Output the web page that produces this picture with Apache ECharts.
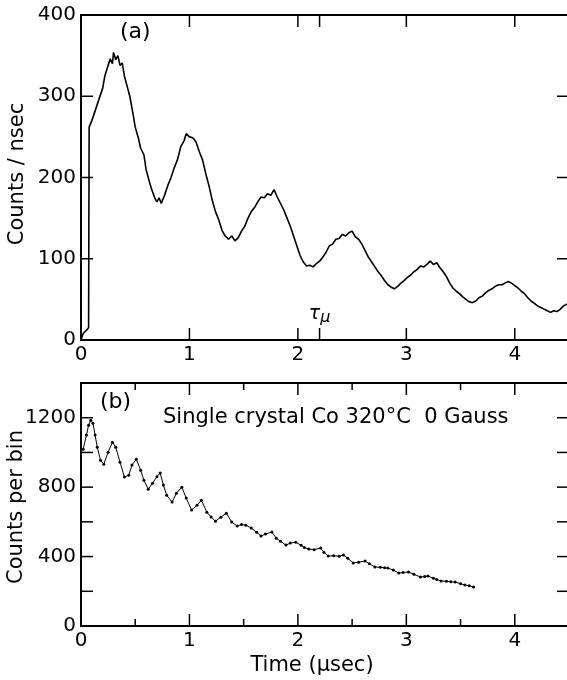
<!DOCTYPE html>
<html><head><meta charset="utf-8">
<script src="https://cdn.jsdelivr.net/npm/echarts@6/dist/echarts.min.js"></script>
<style>html,body{margin:0;padding:0;background:#fff}#c{width:567px;height:680px}</style>
</head><body><div id="c"></div>
<script>
// ---- Panel (a): counts / nsec vs time (usec)
const topTime = [0.00,0.02,0.05,0.07,0.075,0.10,0.15,0.18,0.20,0.22,0.25,0.27,0.29,0.30,0.32,0.34,0.36,0.38,0.40,0.43,0.45,0.48,0.50,0.53,0.55,0.58,0.60,0.63,0.65,0.68,0.70,0.72,0.74,0.77,0.80,0.83,0.86,0.89,0.92,0.95,0.97,1.00,1.03,1.06,1.09,1.12,1.15,1.18,1.21,1.24,1.27,1.30,1.33,1.36,1.39,1.42,1.45,1.48,1.51,1.54,1.57,1.60,1.63,1.66,1.69,1.72,1.75,1.78,1.81,1.84,1.87,1.90,1.93,1.96,1.99,2.02,2.05,2.08,2.11,2.14,2.17,2.20,2.23,2.26,2.29,2.32,2.35,2.38,2.41,2.44,2.47,2.50,2.53,2.56,2.59,2.62,2.65,2.68,2.71,2.74,2.77,2.80,2.83,2.86,2.89,2.92,2.95,2.98,3.01,3.04,3.07,3.10,3.13,3.16,3.19,3.22,3.25,3.28,3.31,3.34,3.37,3.40,3.43,3.46,3.49,3.52,3.55,3.58,3.61,3.64,3.67,3.70,3.73,3.76,3.79,3.82,3.85,3.88,3.91,3.94,3.97,4.00,4.03,4.06,4.09,4.12,4.15,4.18,4.21,4.24,4.27,4.30,4.33,4.36,4.39,4.42,4.45,4.48,4.50];
const topCounts = [0,8,12,15,262,270,290,302,310,325,338,346,340,354,345,350,338,341,325,310,300,278,262,248,236,228,210,195,186,175,170,175,168,178,190,200,212,222,238,245,254,250,249,244,232,222,205,190,172,158,148,135,128,124,128,122,126,134,140,150,158,163,170,176,175,180,178,185,176,168,160,150,140,128,116,104,96,91,92,90,94,97,102,108,116,118,124,125,130,128,132,134,127,124,118,110,102,96,90,84,79,73,68,65,63,66,70,73,77,80,84,87,91,90,93,97,93,95,89,84,78,70,64,60,57,53,50,47,46,48,52,54,58,61,63,66,68,68,70,72,70,67,64,60,57,52,48,45,42,40,38,36,34,36,35,38,42,44,46];

// ---- Panel (b): counts per bin vs time (usec)
const botTime = [0.02,0.05,0.07,0.09,0.11,0.13,0.15,0.18,0.21,0.25,0.29,0.32,0.36,0.40,0.44,0.47,0.51,0.55,0.58,0.62,0.66,0.70,0.73,0.76,0.79,0.84,0.88,0.93,0.97,1.02,1.07,1.11,1.16,1.20,1.24,1.29,1.34,1.39,1.44,1.48,1.52,1.57,1.62,1.66,1.70,1.76,1.80,1.84,1.89,1.93,1.98,2.03,2.06,2.10,2.15,2.21,2.24,2.28,2.33,2.38,2.42,2.46,2.51,2.56,2.62,2.66,2.71,2.76,2.80,2.83,2.88,2.93,2.97,3.02,3.07,3.13,3.17,3.20,3.25,3.28,3.32,3.37,3.41,3.45,3.50,3.54,3.58,3.62];
const botCounts = [1019,1100,1157,1186,1168,1100,1030,955,932,1001,1059,1030,944,858,869,927,961,898,840,788,823,860,881,812,754,714,765,800,737,668,696,725,656,628,604,627,650,599,576,585,581,564,540,518,530,541,506,488,466,478,483,465,452,443,440,449,425,403,405,402,409,390,363,368,374,358,340,338,336,334,322,305,308,311,298,282,285,288,275,268,259,258,255,253,244,236,232,224];

// ---- Axis ticks / labels
const xLabels = [0,1,2,3,4];
const xMajorTicks = [1,2,3,4];
const xMinorTicks = [0.5,1.5,2.5,3.5];
const tauMu = 2.2;
const yTopLabels = [0,100,200,300,400];
const yTopTicks = [100,200,300];
const yBotLabels = [0,400,800,1200];
const yBotTicks = [200,400,600,800,1000,1200];

const FONT = 'DejaVu Sans';
const K = '#000';
const labStyle = { color: K, fontFamily: FONT, fontSize: 20 };
const X_MAX = 4.5, YA_MAX = 400, YB_MAX = 1400;

function grid(rect) {
  return Object.assign({ outerBoundsMode: 'none', containLabel: false,
    show: true, borderColor: K, borderWidth: 2, backgroundColor: 'transparent' }, rect);
}
function labelAxis(gridIndex, pos, max, labels) {
  return {
    type: 'value', gridIndex: gridIndex, position: pos, min: 0, max: max,
    axisLine: { show: false, onZero: false }, axisTick: { show: false }, splitLine: { show: false },
    axisLabel: Object.assign({ show: true, margin: 5, customValues: labels,
      formatter: function (v) { return String(v); } }, labStyle)
  };
}
// tick marks drawn through the axes' scales: item = [value, side(0 = bottom/left, 1 = top/right), major(1/0)]
function tickSeries(xi, yi, dir, yMax, items) {
  return {
    type: 'custom', xAxisIndex: xi, yAxisIndex: yi, silent: true, clip: false, z: 5,
    encode: { x: -1, y: -1 },
    data: items,
    renderItem: function (params, api) {
      const v = api.value(0), side = api.value(1), major = api.value(2);
      const len = major ? 12 : 7;
      let p, shape;
      if (dir === 'x') {
        p = api.coord([v, side ? yMax : 0]);
        shape = { x1: p[0], y1: p[1], x2: p[0], y2: p[1] + (side ? len : -len) };
      } else {
        p = api.coord([side ? X_MAX : 0, v]);
        shape = { x1: p[0], y1: p[1], x2: p[0] + (side ? -len : len), y2: p[1] };
      }
      return { type: 'line', shape: shape, style: { stroke: K, lineWidth: 1.5 } };
    }
  };
}
function both(vals, major) {
  return vals.map(v => [v, 0, major]).concat(vals.map(v => [v, 1, major]));
}

const chart = echarts.init(document.getElementById('c'), null, { renderer: 'canvas' });

chart.setOption({
  animation: false,
  backgroundColor: '#fff',
  grid: [
    grid({ left: 81, right: -2, top: 15, height: 325 }),
    grid({ left: 81, right: -2, top: 383, height: 243 })
  ],
  xAxis: [
    labelAxis(0, 'bottom', X_MAX, xLabels),
    {
      type: 'value', gridIndex: 0, position: 'bottom', min: 0, max: X_MAX,
      axisLine: { show: false, onZero: false }, axisTick: { show: false }, splitLine: { show: false },
      axisLabel: {
        show: true, inside: true, margin: 14, customValues: [tauMu],
        formatter: function () { return '{t|τ}{m|μ}'; },
        rich: {
          t: { fontFamily: FONT, fontSize: 19, fontStyle: 'italic', color: K },
          m: { fontFamily: FONT, fontSize: 16, fontStyle: 'italic', color: K, padding: [8, 0, 0, 0] }
        }
      }
    },
    labelAxis(1, 'bottom', X_MAX, xLabels)
  ],
  yAxis: [
    labelAxis(0, 'left', YA_MAX, yTopLabels),
    labelAxis(1, 'left', YB_MAX, yBotLabels)
  ],
  graphic: [
    { type: 'text', left: 120, top: 21, style: { text: '(a)', fontFamily: FONT, fontSize: 22, fill: K } },
    { type: 'text', left: 100, top: 391, style: { text: '(b)', fontFamily: FONT, fontSize: 22, fill: K } },
    { type: 'text', left: 163, top: 407, style: { text: 'Single crystal Co 320°C  0 Gauss', fontFamily: FONT, fontSize: 21, fill: K } },
    { type: 'text', x: 312, y: 666, style: { text: 'Time (μsec)', fontFamily: FONT, fontSize: 21, fill: K, align: 'center', verticalAlign: 'middle' } },
    { type: 'text', x: 18, y: 174, rotation: Math.PI / 2, style: { text: 'Counts / nsec', fontFamily: FONT, fontSize: 21, fill: K, align: 'center', verticalAlign: 'middle' } },
    { type: 'text', x: 17, y: 507, rotation: Math.PI / 2, style: { text: 'Counts per bin', fontFamily: FONT, fontSize: 21, fill: K, align: 'center', verticalAlign: 'middle' } }
  ],
  series: [
    {
      type: 'line', xAxisIndex: 0, yAxisIndex: 0,
      data: topTime.map((t, i) => [t, topCounts[i]]),
      showSymbol: false, symbol: 'none',
      lineStyle: { color: K, width: 1.6 }
    },
    {
      type: 'line', xAxisIndex: 2, yAxisIndex: 1,
      data: botTime.map((t, i) => [t, botCounts[i]]),
      symbol: 'circle', symbolSize: 3,
      itemStyle: { color: K },
      lineStyle: { color: K, width: 1 }
    },
    tickSeries(0, 0, 'x', YA_MAX, both(xMajorTicks.concat([tauMu]), 1)),
    tickSeries(0, 0, 'y', YA_MAX, both(yTopTicks, 1)),
    tickSeries(2, 1, 'x', YB_MAX, both(xMajorTicks, 1).concat(both(xMinorTicks, 0))),
    tickSeries(2, 1, 'y', YB_MAX, both(yBotTicks, 1))
  ]
});
</script></body></html>
